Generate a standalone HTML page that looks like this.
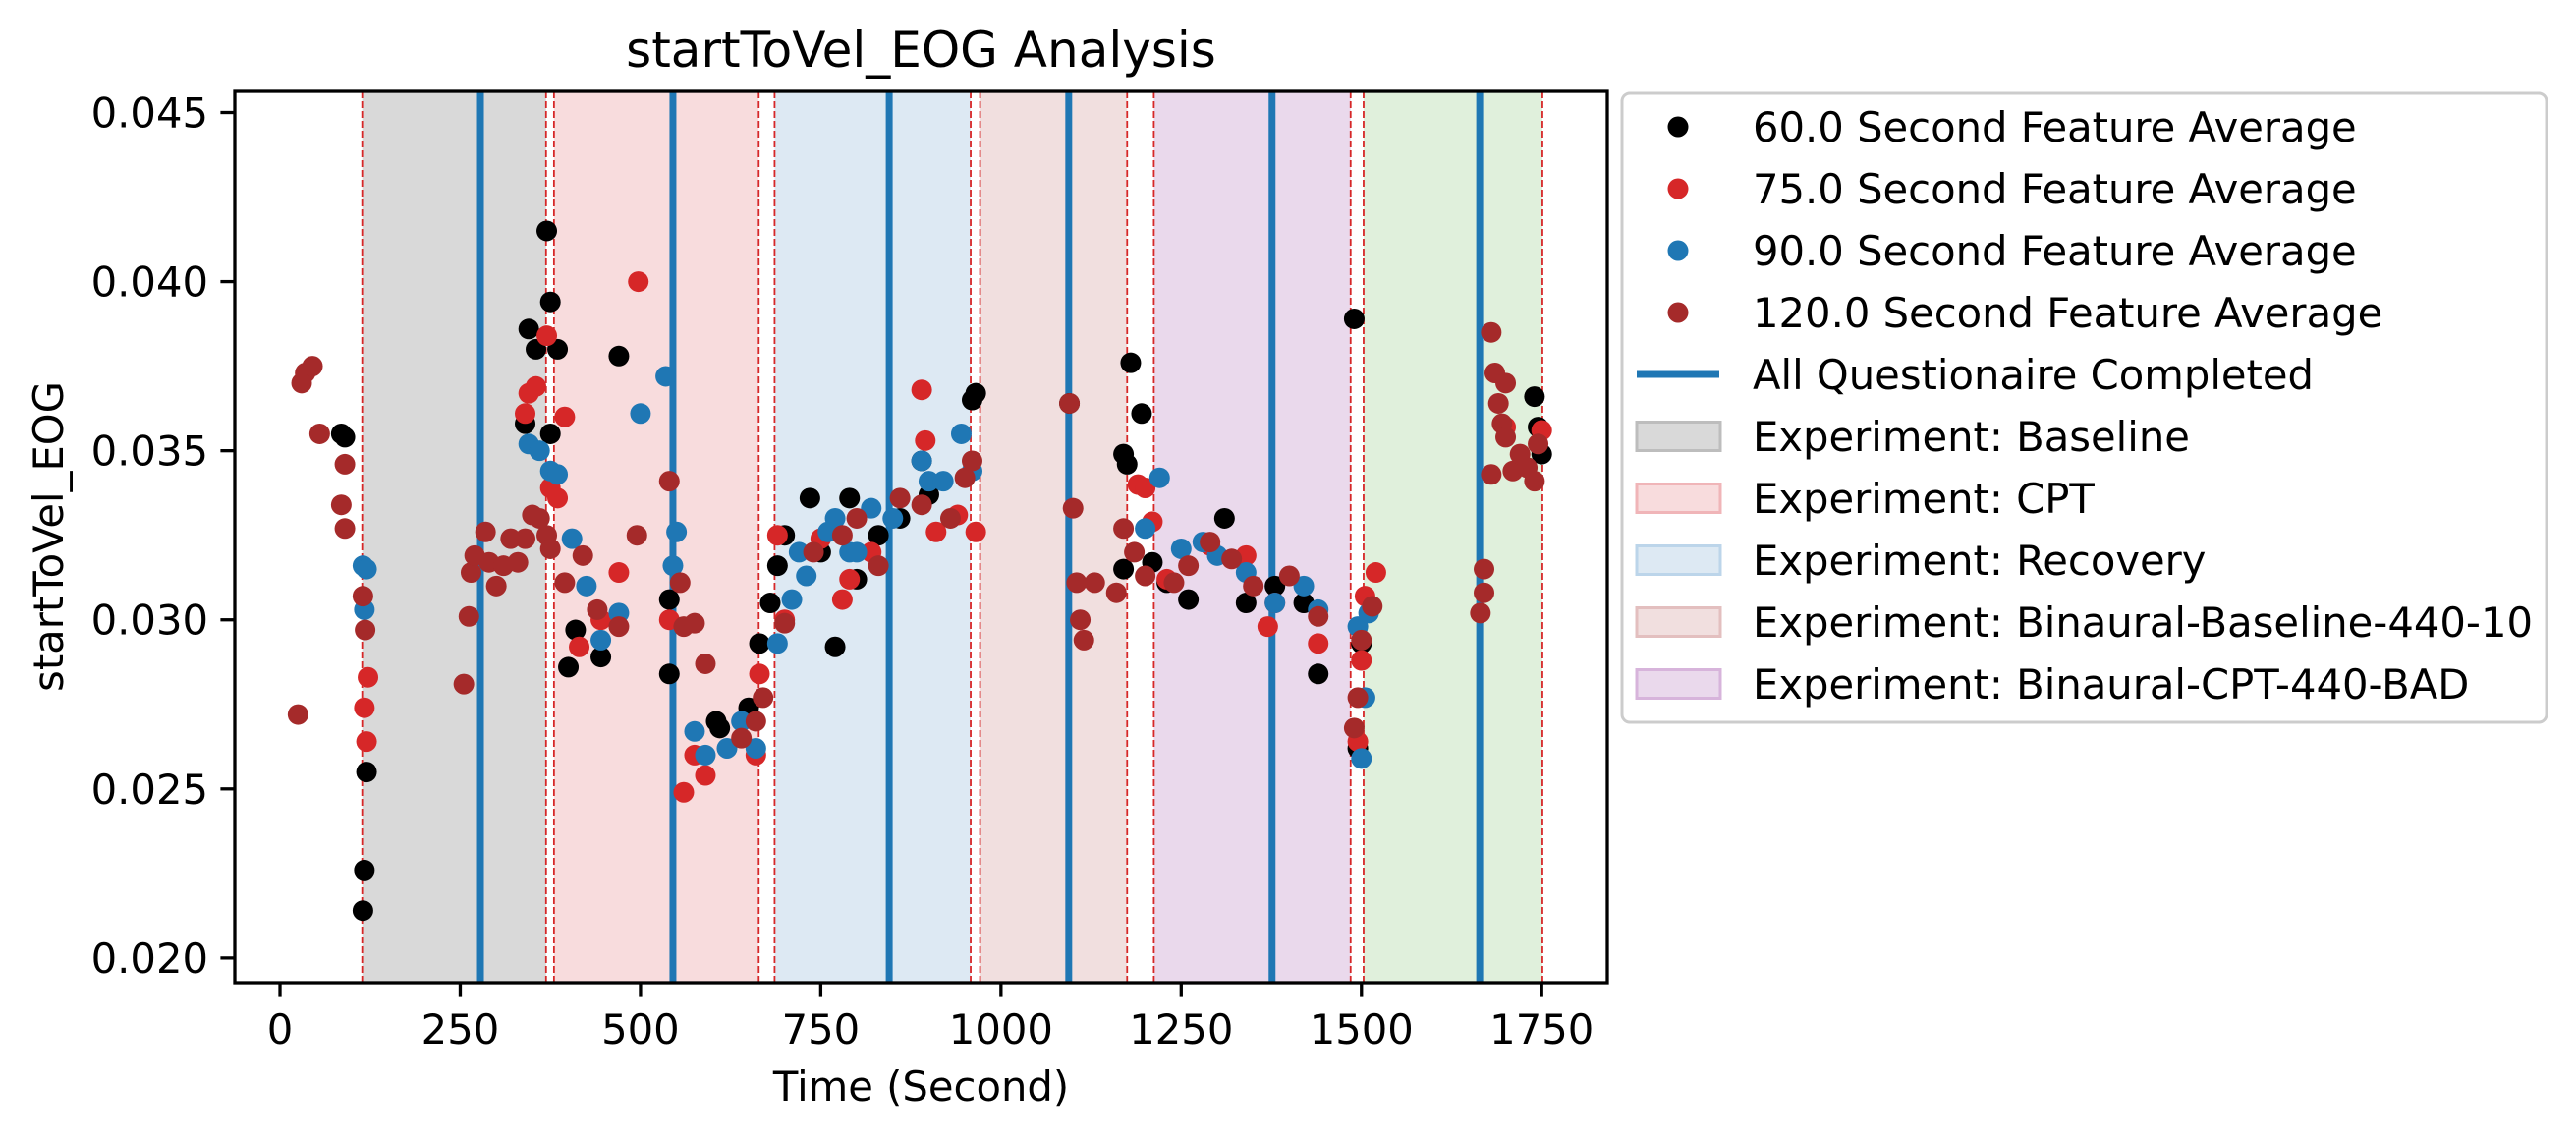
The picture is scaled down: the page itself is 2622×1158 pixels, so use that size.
<!DOCTYPE html>
<html><head><meta charset="utf-8"><style>
html,body{margin:0;padding:0;background:#fff;}
svg{display:block;font-family:"DejaVu Sans","Liberation Sans",sans-serif;}
</style></head><body>
<svg id="chart" width="2622" height="1158" viewBox="0 0 2622 1158" xmlns="http://www.w3.org/2000/svg">
<g id="spans"></g><g id="vlines"></g><g id="points"></g><g id="axes"></g><g id="legend"></g>
</svg>
<script>
const spanStarts=[114,380,686,971,1212,1503];
const spanEnds=[369,664,958,1175,1485,1751];
const spanColors=['#d9d9d9','#f8dcdd','#dde9f3','#f1dfdf','#ead9ec','#e0f0dc'];
const spanNames=['baseline','cpt','recovery','binaural-baseline','binaural-cpt','extra'];
const dashedLines=[114,369,380,664,686,958,971,1175,1212,1485,1503,1751];
const questLines=[278,545,845,1094,1376,1664];
const xTicks=[0,250,500,750,1000,1250,1500,1750];
const yTicks=[0.020,0.025,0.030,0.035,0.040,0.045];
const yTickLabels=['0.020','0.025','0.030','0.035','0.040','0.045'];
const s60x=[85,90,115,117,120,340,345,355,370,375,385,375,400,410,445,470,540,540,605,610,650,665,680,690,700,735,770,790,800,890,900,960,965,1095,1170,1180,1195,1175,1170,1310,1260,1340,1440,1420,1490,1495,1500,1740,1745,1750,1230,1210,1380,750,830,860];
const s60y=[0.0355,0.0354,0.0214,0.0226,0.0255,0.0358,0.0386,0.0380,0.0415,0.0394,0.0380,0.0355,0.0286,0.0297,0.0289,0.0378,0.0306,0.0284,0.0270,0.0268,0.0274,0.0293,0.0305,0.0316,0.0325,0.0336,0.0292,0.0336,0.0312,0.0347,0.0337,0.0365,0.0367,0.0364,0.0349,0.0376,0.0361,0.0346,0.0315,0.0330,0.0306,0.0305,0.0284,0.0305,0.0389,0.0262,0.0293,0.0366,0.0357,0.0349,0.0311,0.0317,0.0310,0.0320,0.0325,0.0330];
const s75x=[117,120,122,340,345,355,370,375,385,395,415,445,470,497,560,575,590,660,665,690,700,750,780,790,890,895,910,965,1190,1200,1210,1230,1370,1380,1440,1495,1500,1505,1520,1750,1700,1290,1340,820,940,540];
const s75y=[0.0274,0.0264,0.0283,0.0361,0.0367,0.0369,0.0384,0.0339,0.0336,0.0360,0.0292,0.0300,0.0314,0.0400,0.0249,0.0260,0.0254,0.0260,0.0284,0.0325,0.0300,0.0324,0.0306,0.0312,0.0368,0.0353,0.0326,0.0326,0.0340,0.0339,0.0329,0.0312,0.0298,0.0305,0.0293,0.0264,0.0288,0.0307,0.0314,0.0356,0.0357,0.0322,0.0319,0.0320,0.0331,0.0300];
const s90x=[115,120,117,345,360,375,385,405,425,445,470,535,500,545,550,575,590,620,640,660,690,710,720,730,760,790,820,850,890,900,920,945,960,1220,1200,1250,1280,1300,1340,1380,1420,1440,1495,1500,1505,1510,770,800];
const s90y=[0.0316,0.0315,0.0303,0.0352,0.0350,0.0344,0.0343,0.0324,0.0310,0.0294,0.0302,0.0372,0.0361,0.0316,0.0326,0.0267,0.0260,0.0262,0.0270,0.0262,0.0293,0.0306,0.0320,0.0313,0.0326,0.0320,0.0333,0.0330,0.0347,0.0341,0.0341,0.0355,0.0344,0.0342,0.0327,0.0321,0.0323,0.0319,0.0314,0.0305,0.0310,0.0303,0.0298,0.0259,0.0277,0.0302,0.0330,0.0320];
const s120x=[25,30,35,45,55,85,90,90,115,118,255,262,265,270,285,290,300,310,320,330,340,350,360,370,375,395,420,440,470,495,540,555,560,575,590,640,660,670,700,740,780,800,830,860,890,930,950,960,1095,1100,1105,1110,1115,1130,1160,1170,1185,1200,1240,1260,1290,1320,1350,1400,1440,1490,1495,1500,1515,1665,1670,1680,1685,1690,1695,1700,1710,1720,1730,1740,1745,1680,1700,1670];
const s120y=[0.0272,0.0370,0.0373,0.0375,0.0355,0.0334,0.0346,0.0327,0.0307,0.0297,0.0281,0.0301,0.0314,0.0319,0.0326,0.0317,0.0310,0.0316,0.0324,0.0317,0.0324,0.0331,0.0330,0.0325,0.0321,0.0311,0.0319,0.0303,0.0298,0.0325,0.0341,0.0311,0.0298,0.0299,0.0287,0.0265,0.0270,0.0277,0.0299,0.0320,0.0325,0.0330,0.0316,0.0336,0.0334,0.0330,0.0342,0.0347,0.0364,0.0333,0.0311,0.0300,0.0294,0.0311,0.0308,0.0327,0.0320,0.0313,0.0311,0.0316,0.0323,0.0318,0.0310,0.0313,0.0301,0.0268,0.0277,0.0294,0.0304,0.0302,0.0308,0.0385,0.0373,0.0364,0.0358,0.0354,0.0344,0.0349,0.0345,0.0341,0.0352,0.0343,0.0370,0.0315];

const NS='http://www.w3.org/2000/svg';
const AX={l:239,r:1636,t:93,b:1000};
const XMIN=-62.7,XMAX=1841,YMIN=0.01927,YMAX=0.045625;
const xs=v=>AX.l+(v-XMIN)/(XMAX-XMIN)*(AX.r-AX.l);
const ys=v=>AX.b-(v-YMIN)/(YMAX-YMIN)*(AX.b-AX.t);
function mk(tag,attrs,parent){const e=document.createElementNS(NS,tag);for(const k in attrs)e.setAttribute(k,attrs[k]);parent.appendChild(e);return e;}
const gS=document.getElementById('spans'),gV=document.getElementById('vlines'),gP=document.getElementById('points'),gA=document.getElementById('axes'),gL=document.getElementById('legend');

spanStarts.forEach((s,i)=>{
  const r=mk('rect',{x:xs(s),y:AX.t,width:xs(spanEnds[i])-xs(s),height:AX.b-AX.t,fill:spanColors[i]},gS);
  
  
});
dashedLines.forEach(v=>{
  const l=mk('line',{x1:xs(v),x2:xs(v),y1:AX.t,y2:AX.b,stroke:'#d62728','stroke-width':1.8,'stroke-dasharray':'7,3'},gV);
  
  
});
questLines.forEach(v=>{
  const l=mk('line',{x1:xs(v),x2:xs(v),y1:AX.t,y2:AX.b,stroke:'#1f77b4','stroke-width':7},gV);
  
  
});
const series=[[s60x,s60y,'#000000','60s'],[s75x,s75y,'#d62728','75s'],[s90x,s90y,'#1f77b4','90s'],[s120x,s120y,'#a52a2a','120s']];
series.forEach(([sx,sy,c,n])=>{
  sx.forEach((x,i)=>{
    const p=mk('circle',{cx:xs(x),cy:ys(sy[i]),r:10.5,fill:c},gP);
    
    
  });
});
// axes frame
const fr=mk('rect',{x:AX.l,y:AX.t,width:AX.r-AX.l,height:AX.b-AX.t,fill:'none',stroke:'#000','stroke-width':3.3},gA);


xTicks.forEach(v=>{
  const t=mk('line',{x1:xs(v),x2:xs(v),y1:AX.b,y2:AX.b+14.6,stroke:'#000','stroke-width':3.3},gA);
  
  
  const tx=mk('text',{x:xs(v),y:AX.b+62,'font-size':41.7,'text-anchor':'middle',fill:'#000'},gA);
  tx.textContent=String(v);
  
  
});
yTicks.forEach((v,i)=>{
  const t=mk('line',{x1:AX.l-14.6,x2:AX.l,y1:ys(v),y2:ys(v),stroke:'#000','stroke-width':3.3},gA);
  
  
  const tx=mk('text',{x:AX.l-27,y:ys(v)+15,'font-size':41.7,'text-anchor':'end',fill:'#000'},gA);
  tx.textContent=yTickLabels[i];
  
  
});
const title=mk('text',{x:(AX.l+AX.r)/2,y:68,'font-size':50,'text-anchor':'middle',fill:'#000'},gA);
title.textContent='startToVel_EOG Analysis';


const xl=mk('text',{x:(AX.l+AX.r)/2,y:1120,'font-size':41.7,'text-anchor':'middle',fill:'#000'},gA);
xl.textContent='Time (Second)';


const yl=mk('text',{x:0,y:0,'font-size':41.7,'text-anchor':'middle',fill:'#000',transform:'translate(64,546) rotate(-90)'},gA);
yl.textContent='startToVel_EOG';



// legend
const lb=mk('rect',{x:1651,y:95,width:941,height:640,rx:8,fill:'#fff','fill-opacity':0.8,stroke:'#cccccc','stroke-width':3},gL);


const legLabels=['60.0 Second Feature Average','75.0 Second Feature Average','90.0 Second Feature Average','120.0 Second Feature Average','All Questionaire Completed','Experiment: Baseline','Experiment: CPT','Experiment: Recovery','Experiment: Binaural-Baseline-440-10','Experiment: Binaural-CPT-440-BAD'];
legLabels.forEach((lab,i)=>{
  const cy=129+63*i;
  const g=mk('g',{},gL);
  
  
  if(i<4){mk('circle',{cx:1708,cy:cy,r:10.5,fill:series[i][2]},g);}
  else if(i===4){mk('line',{x1:1666,x2:1750,y1:cy,y2:cy,stroke:'#1f77b4','stroke-width':7},g);}
  else{const c=spanColors[i-5];const sc=['#bdbdbd','#f0b5b8','#bcd5ea','#e3bfbf','#d7b4db'][i-5];
    mk('rect',{x:1666,y:cy-14.5,width:85,height:29,fill:c,stroke:sc,'stroke-width':3},g);}
  const t=mk('text',{x:1784,y:cy+15,'font-size':41.7,fill:'#000'},g);
  t.textContent=lab;
});
</script>
</body></html>
